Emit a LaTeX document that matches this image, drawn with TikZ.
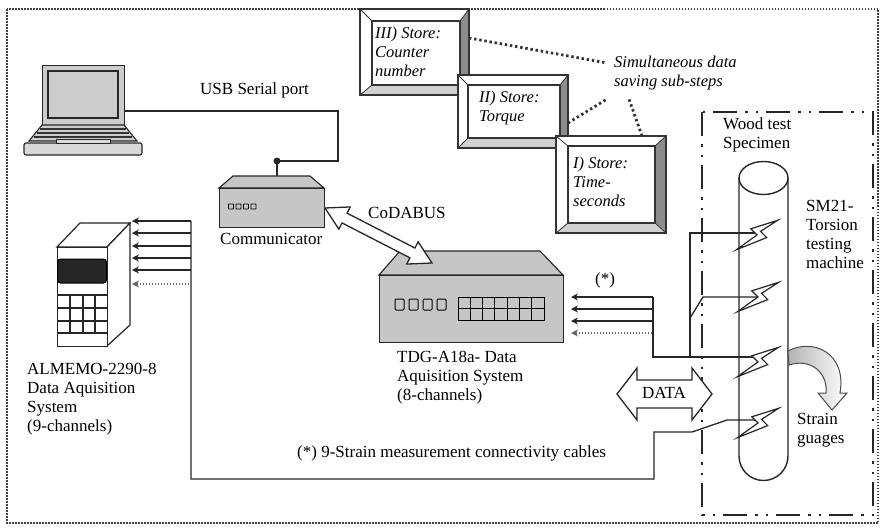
\documentclass[tikz,border=0pt]{standalone}
\usepackage{fontspec}
\setmainfont{Liberation Serif}
\usetikzlibrary{arrows.meta}

% bevelled frame: outer x1 y1 x2 y2, inner x1 y1 x2 y2
\newcommand\storeframe[8]{%
  \fill[white] (#1,#2) rectangle (#3,#4);
  \fill[black!45] (#3,#2) -- (#3,#4) -- (#7,#8) -- (#7,#6) -- cycle;
  \fill[black!18] (#1,#4) -- (#3,#4) -- (#7,#8) -- (#5,#8) -- cycle;
  \draw[line width=1.1pt, black!80] (#1,#2) rectangle (#3,#4);
  \draw[line width=1.1pt, black!80] (#5,#6) rectangle (#7,#8);
  \draw[line width=0.8pt, black!80] (#1,#2) -- (#5,#6) (#3,#2) -- (#7,#6)
        (#1,#4) -- (#5,#8) (#3,#4) -- (#7,#8);
}

\begin{document}
\begin{tikzpicture}[x=1pt,y=-1pt,
  lbl/.style={font=\fontsize{17}{19}\selectfont, inner sep=0pt, align=left, anchor=west},
  ilbl/.style={font=\fontsize{16.5}{19}\selectfont\itshape, inner sep=0pt, align=left, anchor=west},
  wire/.style={line width=1.3pt, draw=black!85},
  feed/.style={line width=1.7pt, draw=black!85, -{Stealth[length=7pt,width=7pt]}},
  feeddot/.style={feed, dash pattern=on 1.5pt off 1.5pt, draw=black!60},
  hollow/.style={line width=1.3pt, draw=black!85, fill=white, line join=miter},
  device/.style={line width=1.1pt, draw=black!85, fill=gray!45},
  bigdots/.style={line width=2.8pt, draw=black!80, dash pattern=on 2.4pt off 2.8pt},
  border/.style={line width=1.7pt, draw=black!75, dash pattern=on 1.5pt off 1.5pt},
  rigframe/.style={line width=2.3pt, draw=black!85, dash pattern=on 24pt off 8pt on 2.5pt off 8pt on 2.5pt off 8pt},
  gauge/.pic={\draw[line width=1.2pt, draw=black!85, fill=white, line join=miter]
    (20.6,-14.7) -- (-6.2,-6.2) -- (0,0) -- (-20.6,14.7) -- (9.7,2.6) -- (3.5,-3.6) -- cycle;},
]
\useasboundingbox (0,0) rectangle (881,528);

% outer dotted border
\draw[border] (7,9) rectangle (878,523);

% torsion machine enclosure
\draw[rigframe] (702,112) rectangle (873,515);

% ---------- laptop ----------
\node[device, fill=gray!40, minimum width=82, minimum height=60, inner sep=0, anchor=north west] (laptop) at (42,65) {};
\draw[device, fill=gray!40, line width=1.4pt] (48,71) rectangle (118,118);
\draw[device, fill=gray!40] (42,125) -- (124,125) -- (137,141) -- (29,141) -- cycle;
\draw[line width=1.6pt, black!80] (40,129) -- (126,129) (37,133) -- (129,133) (34,137) -- (132,137);
\draw[device, fill=gray!30, rounded corners=2pt] (24,143) rectangle (142,155);
\draw[device, fill=gray!30, line width=0.8pt] (56,139) rectangle (110,143);
\coordinate (usb) at (124,111);

% ---------- communicator ----------
\draw[device] (219,188) -- (233,176) -- (310,176) -- (324,188) -- cycle;
\node[device, minimum width=105, minimum height=39, inner sep=0, anchor=north west] (comm) at (219,188) {};
\foreach \i in {0,...,3} \draw[line width=0.9pt, rounded corners=0.6pt] ({228.5+\i*7.5},204) rectangle +(5,5);
\coordinate (antenna) at (277,161);
\coordinate (commtop) at (277,176);
\draw[wire, line width=2pt] (usb) -| (338,161) -- (antenna) -- (commtop);
\fill[black!85] (antenna) circle (3.5);

% ---------- TDG-A18a ----------
\draw[device] (379,275) -- (400,251) -- (540,251) -- (563,275) -- cycle;
\node[device, minimum width=184, minimum height=67, inner sep=0, anchor=north west] (tdg) at (379,275) {};
\foreach \i in {0,...,3} \draw[line width=1pt, rounded corners=1pt] ({395+\i*14},299) rectangle +(9,11);
\draw[line width=1pt] (458,297) rectangle (544,320);
\foreach \i in {1,...,6} \draw[line width=1pt] ({458+\i*86/7},297) -- ++(0,23);
\draw[line width=1pt] (458,308.5) -- (544,308.5);

% CoDABUS link
\begin{scope}[shift={(325,208)}, rotate=-27.2]
  \draw[hollow] (0,0) -- (22,12.5) -- (22,5.5) -- (98.3,5.5) -- (98.3,12.5) -- (120.3,0)
    -- (98.3,-12.5) -- (98.3,-5.5) -- (22,-5.5) -- (22,-12.5) -- cycle;
\end{scope}

% ---------- ALMEMO-2290-8 ----------
\draw[line width=1.2pt, black!85, fill=white] (57,247) -- (80,223) -- (130,223) -- (107,247) -- cycle;
\draw[line width=1.2pt, black!85, fill=white] (107,247) -- (130,223) -- (130,325) -- (107,346) -- cycle;
\node[draw=black!85, line width=1.2pt, fill=white, minimum width=50, minimum height=99, inner sep=0, anchor=north west] (almemo) at (57,247) {};
\draw[line width=1pt, fill=black!85, rounded corners=3pt] (57.5,259) rectangle (106.5,283);
\foreach \xx in {70,83,95} \draw[line width=1.2pt, black!85] (\xx,295) -- (\xx,333);
\foreach \yy in {295,308,321,333} \draw[line width=1.2pt, black!85] (57,\yy) -- (107,\yy);

% ---------- test specimen ----------
\draw[line width=1.4pt, black!85, fill=white] (739,178) -- (739,456)
  .. controls (739,469.5) and (750,480.5) .. (763.5,480.5)
  .. controls (777,480.5) and (788,469.5) .. (788,456) -- (788,178);
\draw[line width=1.4pt, black!85, fill=white] (763.5,178) ellipse [x radius=24.5, y radius=16.5];
\coordinate (g1) at (757,235);
\coordinate (g2) at (758,297);
\coordinate (g3) at (758,362);
\coordinate (g4) at (758,423);

% ---------- cabling ----------
\foreach \yy in {297,309,321} \draw[feed] (653,\yy) -- (571,\yy);
\draw[feeddot] (652,333) -- (571,333);
\draw[wire] (653,297) -- (653,357) -- (g3 |- 0,357);
\draw[wire] (690,357) -- (690,233) -- (g1 |- 0,233);
\draw[wire] (690,318) -- (703,297) -- (g2);
\draw[wire] (191,221) -- (191,479) -- (654,479) -- (654,432) -- (692,432) -- (727,420) -- (g4 |- 0,420);
\foreach \yy in {221,233,246,258,270} \draw[feed] (191,\yy) -- (132,\yy);
\draw[feeddot] (189,284) -- (132,284);

\foreach \g in {g1,g2,g3,g4} \pic at (\g) {gauge};

% DATA link
\draw[hollow] (617,394) -- (637,368) -- (637,380) -- (692,380) -- (692,368) -- (712,394)
  -- (692,420) -- (692,408) -- (637,408) -- (637,420) -- cycle;

% strain gauge pointer
\shade[left color=gray!60, right color=white, draw=black!70, line width=1pt]
  (788,351) .. controls (812,338) and (847,352) .. (840,393) -- (847,393) -- (832,410)
  -- (818,393) -- (826,393) .. controls (828,372) and (810,358) .. (789,365) -- cycle;

% ---------- storage sub-steps ----------
\storeframe{360}{9}{469}{95}{372}{21}{460}{85}
\storeframe{458}{75}{568}{148}{468}{85}{560}{138}
\storeframe{556}{136}{666}{233}{568}{146}{655}{223}
\node[ilbl] (s3) at (375,52) {III) Store:\\Counter\\number};
\node[ilbl] (s2) at (479,108) {II) Store:\\Torque};
\node[ilbl] (s1) at (573,182) {I) Store:\\Time-\\seconds};
\node[ilbl] (simul) at (614,73) {Simultaneous data\\saving sub-steps};
\draw[bigdots] (469,38) -- (607,63);
\draw[bigdots] (568,123) -- (607,99);
\draw[bigdots] (642,136) -- (629,99);

% ---------- labels ----------
\node[lbl] at (200,90) {USB Serial port};
\node[lbl] at (368,213) {CoDABUS};
\node[lbl] at (220,239) {Communicator};
\node[lbl] at (27,399) {ALMEMO-2290-8\\Data Aquisition\\System\\(9-channels)};
\node[lbl] at (397,378) {TDG-A18a- Data\\Aquisition System\\(8-channels)};
\node[lbl, anchor=center] at (605,280) {(*)};
\node[lbl, anchor=center] at (664,393) {DATA};
\node[lbl] at (297,453) {(*) 9-Strain measurement connectivity cables};
\node[lbl] at (723,135) {Wood test\\Specimen};
\node[lbl] at (806,234) {SM21-\\Torsion\\testing\\machine};
\node[lbl] at (797,430) {Strain\\guages};
\end{tikzpicture}
\end{document}
